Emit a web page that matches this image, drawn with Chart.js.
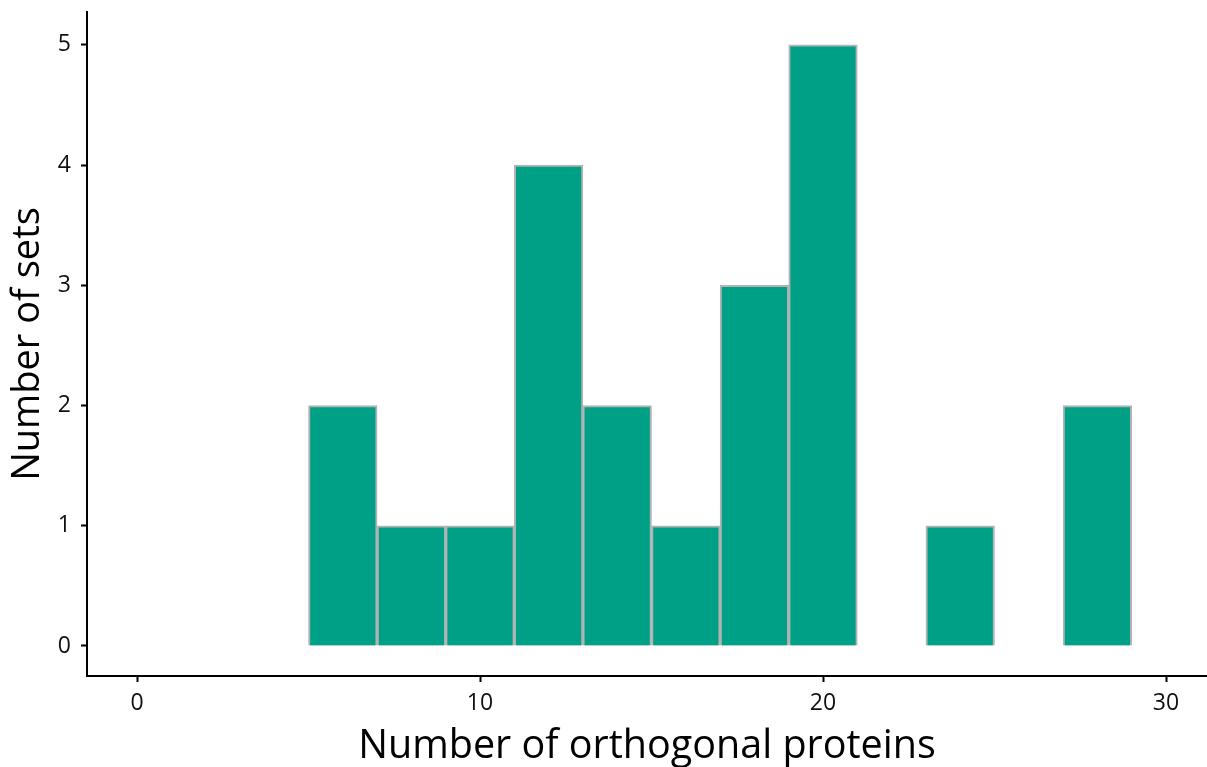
<!DOCTYPE html>
<html>
<head>
<meta charset="utf-8">
<script src="https://cdn.jsdelivr.net/npm/chart.js@4/dist/chart.umd.min.js"></script>
<style>
  body { margin: 0; background: #fff; }
</style>
</head>
<body>
<canvas id="myChart" width="1207" height="767"></canvas>
<script>
// histogram bins (width 2), centre of each bin and count
const binCenters = [6, 8, 10, 12, 14, 16, 18, 20, 24, 28];
const binCounts  = [2, 1, 1, 4, 2, 1, 3, 5, 1, 2];
const xTicks = [0, 10, 20, 30];
const yTicks = [0, 1, 2, 3, 4, 5];

const FONT = "'Open Sans', 'DejaVu Sans', sans-serif";

let points = binCenters.map( (c, i) => ({ x: c, y: binCounts[i] }) );

let config = {
  type: 'bar',
  data: {
    datasets: [{
      data: points,
      backgroundColor: '#00a087',
      borderColor: '#b3b3b3',
      borderWidth: 2,
      barPercentage: 1,
      categoryPercentage: 1
    }]
  },
  options: {
    responsive: false,
    animation: false,
    layout: { padding: { top: 12, right: 0, left: 0, bottom: 0 } },
    plugins: {
      legend: { display: false },
      tooltip: { enabled: false }
    },
    scales: {
      x: {
        type: 'linear',
        offset: false,
        min: -1.458,
        max: 31.195,
        afterBuildTicks: (s) => { s.ticks = xTicks.map( v => ({ value: v }) ); },
        afterFit: (s) => { s.height = 91; s.paddingLeft = 0; s.paddingRight = 0; },
        border: { display: true, color: '#000', width: 2 },
        grid: { offset: false, drawOnChartArea: false, drawTicks: true, tickLength: 6, tickColor: '#000', tickWidth: 2 },
        ticks: { color: '#111', font: { family: FONT, size: 23 }, padding: 8, maxRotation: 0 },
        title: {
          display: true,
          text: 'Number of orthogonal proteins',
          color: '#000',
          font: { family: FONT, size: 39.5, lineHeight: 1.05 },
          padding: { top: 0, bottom: 0 }
        }
      },
      y: {
        type: 'linear',
        min: -0.2496,
        max: 5.274,
        afterBuildTicks: (s) => { s.ticks = yTicks.map( v => ({ value: v }) ); },
        afterFit: (s) => { s.width = 87; s.paddingTop = 0; s.paddingBottom = 0; },
        border: { display: true, color: '#000', width: 2 },
        grid: { drawOnChartArea: false, drawTicks: true, tickLength: 6, tickColor: '#000', tickWidth: 2 },
        ticks: { color: '#111', font: { family: FONT, size: 23 }, padding: 10 },
        title: {
          display: true,
          text: 'Number of sets',
          color: '#000',
          font: { family: FONT, size: 38 },
          padding: { top: 5, bottom: 0 }
        }
      }
    }
  }
};

let ctx = document.getElementById("myChart").getContext("2d");
let chart = new Chart(ctx, config);
</script>
</body>
</html>
